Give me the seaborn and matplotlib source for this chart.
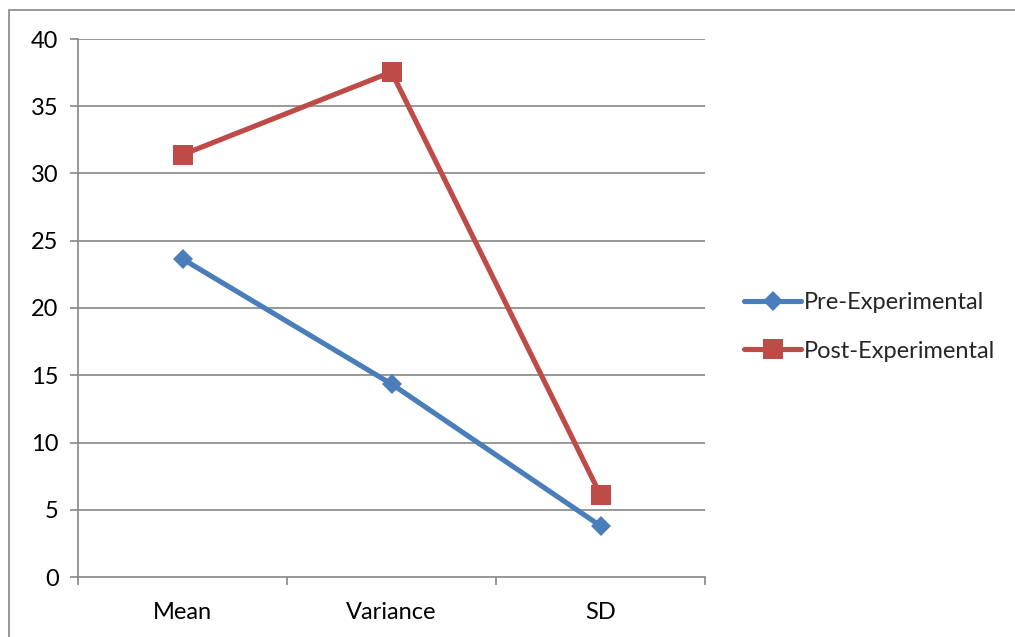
import matplotlib
matplotlib.use("Agg")
import matplotlib.pyplot as plt
import seaborn as sns
import pandas as pd
from matplotlib.patches import Rectangle

categories = ["Mean", "Variance", "SD"]
pre_values = [23.65, 14.35, 3.8]
post_values = [31.4, 37.55, 6.1]
series_names = ["Pre-Experimental", "Post-Experimental"]
y_ticks = [0, 5, 10, 15, 20, 25, 30, 35, 40]

df = pd.DataFrame({
    "category": categories * 2,
    "value": pre_values + post_values,
    "series": [series_names[0]] * 3 + [series_names[1]] * 3,
})

sns.set_theme(style="white")
plt.rcParams["font.family"] = ["Lato", "DejaVu Sans"]

W, H = 1015, 637
fig = plt.figure(figsize=(W / 100, H / 100), dpi=100)
ax = fig.add_axes([78 / W, 1 - 577 / H, (705 - 78) / W, (577 - 39) / H])

grid_c = "#868686"
for t in y_ticks[1:]:
    ax.axhline(t, color=grid_c, lw=1.2, zorder=0)

sns.lineplot(
    data=df, x="category", y="value", hue="series", style="series",
    palette={series_names[0]: "#4A7EBB", series_names[1]: "#BE4B48"},
    markers={series_names[0]: "D", series_names[1]: "s"},
    dashes=False, linewidth=3.7, markeredgewidth=0,
    sort=False, ax=ax, legend=True,
)
for line in ax.lines:
    if line.get_marker() == "D":
        line.set_markersize(10.5)
    elif line.get_marker() == "s":
        line.set_markersize(14)

ax.set_xlim(-0.5, 2.5)
ax.set_ylim(0, 40)
ax.set_yticks(y_ticks)
ax.set_xticks(range(3))
ax.set_xticklabels(categories)
ax.set_xticks([-0.5, 0.5, 1.5, 2.5], minor=True)
ax.set_xlabel("")
ax.set_ylabel("")
ax.tick_params(axis="y", which="major", length=6, width=1.2, color=grid_c,
               labelsize=17, pad=8, left=True)
ax.tick_params(axis="x", which="major", length=0, labelsize=17, pad=18)
ax.tick_params(axis="x", which="minor", length=6, width=1.2, color=grid_c,
               bottom=True)
for lab in ax.get_yticklabels() + ax.get_xticklabels():
    lab.set_color("black")

for side in ["top", "right"]:
    ax.spines[side].set_visible(False)
for side in ["left", "bottom"]:
    ax.spines[side].set_color(grid_c)
    ax.spines[side].set_linewidth(1.2)

handles, labels = ax.get_legend_handles_labels()
ax.legend(handles, labels, loc="center left",
          bbox_to_anchor=(735 / W, 1 - 327 / H), bbox_transform=fig.transFigure,
          frameon=False, fontsize=17, handlelength=2.4, handletextpad=0.1,
          labelspacing=1.15, borderaxespad=0)

fig.patches.append(Rectangle((9 / W, -0.1), 1.2, 1 - 10 / H + 0.1,
                             transform=fig.transFigure, fill=False,
                             edgecolor="#868686", lw=1.2, zorder=-1))

fig.savefig("out.png", dpi=100, facecolor="white")
